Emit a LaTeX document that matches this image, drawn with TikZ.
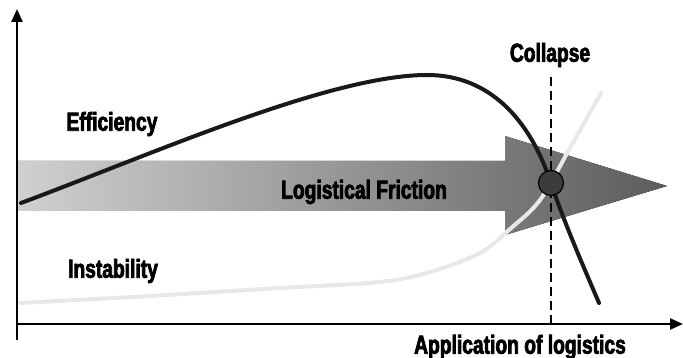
\documentclass[tikz,border=0pt]{standalone}
\usepackage{fontspec}
\setmainfont{Liberation Sans}
\newfontfamily\labelfont{Liberation Sans Bold}[FakeStretch=0.74, FakeBold=2.8]
\usetikzlibrary{arrows.meta}
\definecolor{bandlight}{HTML}{D0D0D0}
\definecolor{banddark}{HTML}{5C5C5C}
\definecolor{dotfill}{HTML}{3C3C3C}
\definecolor{unstable}{HTML}{E8E8E8}
\tikzset{
  axis/.style={line width=2.4pt, -{Triangle[length=13pt,width=11pt]}},
  lbl/.style={font=\labelfont\fontsize{26}{26}\selectfont, inner sep=0pt},
  effcurve/.style={line width=4pt, black!90, line cap=round},
  instcurve/.style={line width=4pt, unstable, line cap=round},
}
\begin{document}
\begin{tikzpicture}[x=1pt,y=-1pt]
\useasboundingbox (0,0) rectangle (683,358);

% axes
\coordinate (origin) at (17,324);
\coordinate (ytop) at (17,9);
\coordinate (xend) at (683,324);
\draw[axis] (17,340) -- (ytop);
\draw[axis] (origin) -- (xend);

% friction arrow
\fill[shading=axis, left color=bandlight, right color=banddark, shading angle=90]
  (18,161) -- (505,161) -- (505,136) -- (667,186) -- (505,235) -- (505,211) -- (18,211) -- cycle;

% instability curve
\draw[instcurve] plot[smooth, tension=0.55] coordinates
  {(20,303) (150,296) (280,288) (380,282) (430,272) (480,253) (510,229) (540,200) (570,148) (601,93)};

% efficiency curve
\draw[effcurve] (21,203) .. controls (150,155) and (330,75) .. (427,75)
  .. controls (490,75) and (530,120) .. (551,183)
  .. controls (565,225) and (585,270) .. (599,303);

% collapse marker
\coordinate (cliptop) at (551,77);
\draw[line width=1.8pt, dash pattern=on 9pt off 5pt] (cliptop) -- (551,324);
\node[circle, draw=black, line width=1.2pt, fill=dotfill, minimum size=25pt, inner sep=0pt] (collapsept) at (551,183) {};

% labels
\node[lbl] (eff) at (112,124) {Efficiency};
\node[lbl] (inst) at (113,271) {Instability};
\node[lbl] (fric) at (364,192) {Logistical Friction};
\node[lbl] (coll) at (550,55) {Collapse};
\node[lbl] (xlab) at (520,347) {Application of logistics};
\end{tikzpicture}
\end{document}
